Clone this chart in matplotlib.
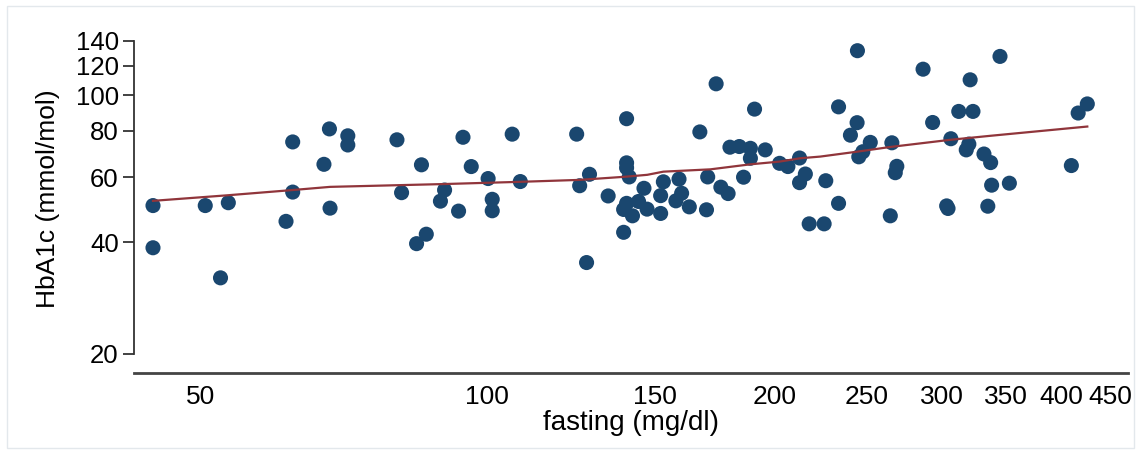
import matplotlib
matplotlib.use("Agg")
import matplotlib.pyplot as plt
from matplotlib.patches import Rectangle
from matplotlib.ticker import FixedLocator, NullLocator

plt.rcParams['font.family'] = ['Liberation Sans', 'DejaVu Sans']

# fasting glucose (mg/dl) and HbA1c (mmol/mol)
fasting = [44.6, 44.6, 50.6, 53.5, 52.5, 62.5, 62.5, 61.5, 67.4, 68.3,
           68.4, 71.4, 71.4, 80.4, 81.3, 85.3, 86.3, 84.3, 90.2, 89.3,
           93.3, 94.3, 96.2, 100.2, 101.2, 101.2, 106.2, 108.3, 124.1, 125.0,
           128.0, 127.1, 133.9, 140.0, 140.0, 140.0, 140.9, 139.0, 140.0, 139.0,
           142.0, 144.1, 146.0, 147.1, 152.0, 152.0, 153.0, 158.9, 159.9, 157.7,
           162.9, 167.1, 170.3, 169.8, 173.8, 175.8, 178.9, 179.7, 183.8, 188.8,
           188.8, 185.7, 190.7, 195.7, 202.6, 206.7, 212.6, 212.6, 215.6, 217.6,
           225.6, 226.5, 233.6, 233.6, 244.5, 244.3, 240.4, 252.2, 247.7, 245.3,
           265.7, 268.9, 267.9, 264.7, 286.5, 293.2, 306.4, 312.3, 323.2, 321.0,
           345.0, 320.0, 318.0, 331.9, 337.3, 338.1, 352.9, 303.3, 304.3, 335.0,
           409.9, 416.7, 426.0]
hba1c = [50.3, 38.7, 50.3, 51.2, 32.1, 74.7, 54.7, 45.6, 65.0, 81.0,
         49.5, 77.6, 73.3, 75.7, 54.5, 64.8, 42.1, 39.7, 55.4, 51.7,
         48.6, 76.9, 64.1, 59.5, 52.3, 48.7, 78.4, 58.4, 78.4, 56.9,
         61.1, 35.3, 53.4, 86.3, 65.6, 63.6, 60.1, 42.6, 51.0, 49.1,
         47.2, 51.6, 56.0, 49.2, 53.5, 47.9, 58.3, 59.3, 54.3, 51.8,
         49.9, 79.5, 60.1, 49.0, 107.2, 56.4, 54.2, 72.3, 72.6, 71.8,
         67.5, 60.0, 91.6, 71.1, 65.4, 64.1, 67.6, 58.0, 61.2, 44.9,
         44.9, 58.7, 51.0, 92.9, 131.7, 84.2, 77.9, 74.5, 70.3, 68.1,
         74.3, 64.2, 61.7, 47.2, 117.4, 84.3, 76.2, 90.3, 90.3, 109.9,
         127.1, 73.7, 71.1, 69.3, 65.7, 57.1, 57.8, 50.2, 49.4, 50.1,
         64.5, 89.4, 94.6]

# lowess smooth as drawn in the reference
smooth_x = [44.6, 53.3, 62.5, 68.4, 90.1, 108.3, 124.9, 139.9, 147.2, 153.0,
            171.4, 188.8, 202.5, 213.0, 223.5, 244.2, 264.7, 306.0, 337.0, 426.0]
smooth_y = [51.8, 53.6, 55.4, 56.5, 57.5, 58.3, 59.0, 60.2, 60.9, 62.1,
            63.0, 65.0, 66.1, 67.5, 68.2, 70.3, 72.4, 75.7, 77.6, 82.2]

x_ticks = [50, 100, 150, 200, 250, 300, 350, 400, 450]
y_ticks = [20, 40, 60, 80, 100, 120, 140]

W, H = 1141, 454
fig = plt.figure(figsize=(W / 100, H / 100), dpi=100)
fig.patches.append(Rectangle((7 / W, 6 / H), 1127 / W, 442 / H,
                             transform=fig.transFigure, fill=False,
                             edgecolor='#e3e8ec', linewidth=1))

ax = fig.add_axes([134 / W, 81 / H, 994 / W, 348 / H])
ax.scatter(fasting, hba1c, s=118, color='#1a476f', edgecolors='none', zorder=3)
ax.plot(smooth_x, smooth_y, color='#90353b', linewidth=1.6, zorder=4)

ax.set_xscale('log')
ax.set_yscale('log')
ax.set_xlim(42.6, 470)
ax.set_ylim(17.77, 154.5)

ax.xaxis.set_major_locator(FixedLocator(x_ticks))
ax.xaxis.set_minor_locator(NullLocator())
ax.set_xticklabels([str(v) for v in x_ticks])
ax.yaxis.set_major_locator(FixedLocator(y_ticks))
ax.yaxis.set_minor_locator(NullLocator())
ax.set_yticklabels([str(v) for v in y_ticks])

ax.tick_params(axis='x', length=0, pad=9, labelsize=19)
ax.tick_params(axis='y', length=8, width=1.3, color='#333333', pad=3, labelsize=18.5)

for side in ['top', 'right']:
    ax.spines[side].set_visible(False)
ax.spines['left'].set_bounds(20, 140)
ax.spines['left'].set_color('#333333')
ax.spines['left'].set_linewidth(1.3)
ax.spines['bottom'].set_color('#444444')
ax.spines['bottom'].set_linewidth(2)

ax.set_xlabel('fasting (mg/dl)', fontsize=20, labelpad=0)
ax.set_ylabel('HbA1c (mmol/mol)', fontsize=19, labelpad=11)

fig.savefig('out.png', dpi=100)
